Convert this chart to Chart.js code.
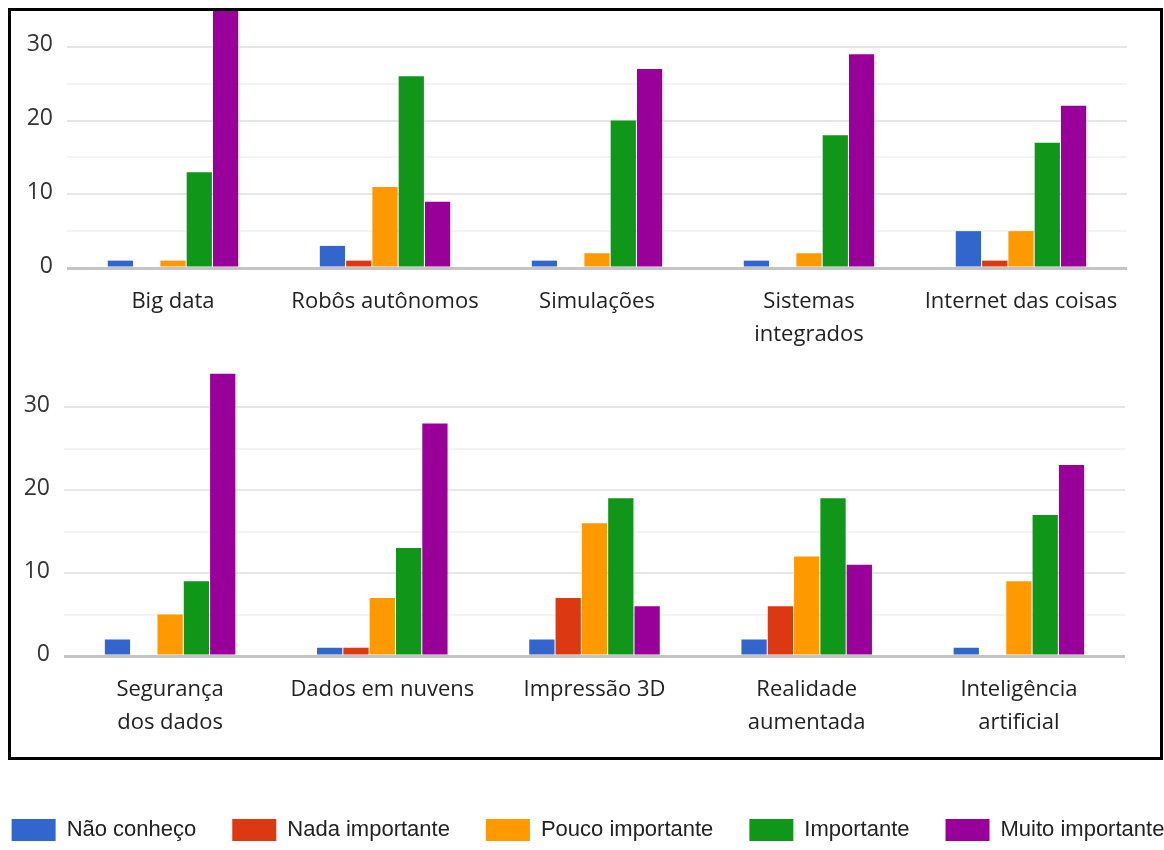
<!DOCTYPE html>
<html>
<head>
<meta charset="utf-8">
<script src="https://cdn.jsdelivr.net/npm/chart.js@4.4.1/dist/chart.umd.min.js"></script>
<style>
html, body { margin:0; padding:0; background:#fff; width:1164px; height:850px; overflow:hidden; }
#frame { position:absolute; left:8px; top:8px; width:1149px; height:746px; border:3px solid #000; z-index:5; pointer-events:none; }
#topBox { position:absolute; left:0; top:0; width:1164px; height:356px; }
#bottomBox { position:absolute; left:-62px; top:356px; width:1300px; height:495px; }
</style>
</head>
<body>
<div id="topBox"><canvas id="topChart"></canvas></div>
<div id="bottomBox"><canvas id="bottomChart"></canvas></div>
<div id="frame"></div>
<script>
// categories
var topLabels = ['Big data', 'Robôs autônomos', 'Simulações', ['Sistemas', 'integrados'], 'Internet das coisas'];
var bottomLabels = [['Segurança', 'dos dados'], 'Dados em nuvens', 'Impressão 3D', ['Realidade', 'aumentada'], ['Inteligência', 'artificial']];
var seriesNames = ['Não conheço', 'Nada importante', 'Pouco importante', 'Importante', 'Muito importante'];
var yTicks = [0, 10, 20, 30];

// values, top panel
var naoConhecoTop = [1, 3, 1, 1, 5];
var nadaTop = [0, 1, 0, 0, 1];
var poucoTop = [1, 11, 2, 2, 5];
var importanteTop = [13, 26, 20, 18, 17];
var muitoTop = [35, 9, 27, 29, 22];

// values, bottom panel
var naoConhecoBottom = [2, 1, 2, 2, 1];
var nadaBottom = [0, 1, 7, 6, 0];
var poucoBottom = [5, 7, 16, 12, 9];
var importanteBottom = [9, 13, 19, 19, 17];
var muitoBottom = [34, 28, 6, 11, 23];

var colors = ['#3366cc', '#dc3912', '#ff9900', '#109618', '#990099'];

function makeDatasets(series) {
	var sets = [];
	for (var i in series) {
		sets.push({
			label: seriesNames[i],
			data: series[i],
			backgroundColor: colors[i],
			borderWidth: 0,
			categoryPercentage: 0.62,
			barPercentage: 0.96
		});
	}
	return sets;
}

function yAxis(width) {
	return {
		min: 0,
		max: 35,
		border: { display: false },
		grid: {
			drawTicks: false,
			color: function(c) {
				var v = c.tick.value;
				if (v === 0) return '#c4c4c4';
				if (v === 35) return 'rgba(0,0,0,0)';
				return v % 10 === 0 ? '#e6e6e6' : '#f3f3f3';
			},
			lineWidth: function(c) { return c.tick.value === 0 ? 3 : 2; }
		},
		ticks: {
			stepSize: 5,
			padding: 14,
			labelOffset: -2,
			color: '#333',
			font: { family: 'Open Sans', size: 23 },
			callback: function(v) { return yTicks.indexOf(v) >= 0 ? v : ''; }
		},
		afterFit: function(s) { s.width = width; s.paddingTop = 0; s.paddingBottom = 0; }
	};
}

function xAxis(height) {
	return {
		border: { display: false },
		grid: { display: false, drawTicks: false },
		ticks: {
			padding: 17,
			color: '#222',
			maxRotation: 0,
			autoSkip: false,
			font: { family: 'Open Sans', size: 22, lineHeight: 1.5 }
		},
		afterFit: function(s) { s.height = height; }
	};
}

Chart.defaults.animation = false;

new Chart(document.getElementById('topChart'), {
	type: 'bar',
	data: {
		labels: topLabels,
		datasets: makeDatasets([naoConhecoTop, nadaTop, poucoTop, importanteTop, muitoTop])
	},
	options: {
		responsive: true,
		maintainAspectRatio: false,
		layout: { padding: { top: 10, right: 37, left: 0, bottom: 0 } },
		plugins: { legend: { display: false }, tooltip: { enabled: false } },
		scales: { x: xAxis(88), y: yAxis(67) }
	}
});

new Chart(document.getElementById('bottomChart'), {
	type: 'bar',
	data: {
		labels: bottomLabels,
		datasets: makeDatasets([naoConhecoBottom, nadaBottom, poucoBottom, importanteBottom, muitoBottom])
	},
	options: {
		responsive: true,
		maintainAspectRatio: false,
		layout: { padding: { top: 9.5, right: 0, left: 0, bottom: 0 } },
		plugins: {
			tooltip: { enabled: false },
			legend: {
				position: 'bottom',
				labels: {
					boxWidth: 44,
					boxHeight: 22,
					padding: 36,
					color: '#222',
					font: { family: "'Liberation Sans', Arial", size: 22 }
				}
			}
		},
		scales: {
			x: xAxis(127),
			y: yAxis(126),
			yR: {
				type: 'linear',
				position: 'right',
				border: { display: false },
				grid: { display: false },
				ticks: { display: false },
				afterFit: function(s) { s.width = 113; s.paddingTop = 0; s.paddingBottom = 0; }
			}
		}
	}
});
</script>
</body>
</html>
